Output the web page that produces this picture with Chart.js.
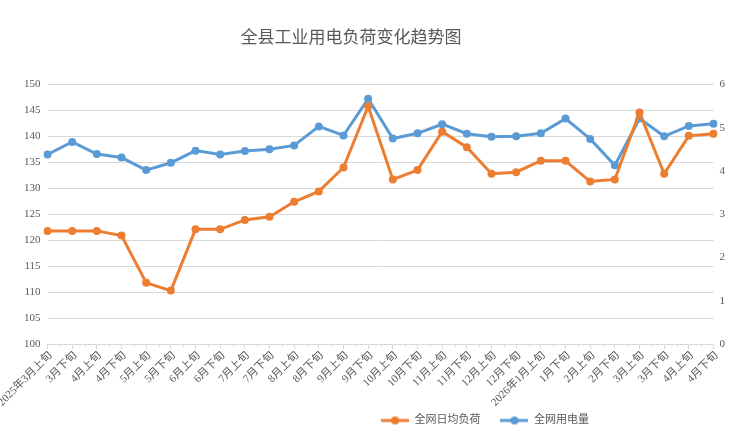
<!DOCTYPE html>
<html>
<head>
<meta charset="utf-8">
<script src="https://cdn.jsdelivr.net/npm/chart.js@4.4.1/dist/chart.umd.min.js"></script>
<style>
  html, body { margin: 0; padding: 0; background: #fff; }
  #wrap { width: 731px; height: 445px; }
</style>
</head>
<body>
<div id="wrap"><canvas id="c" width="731" height="445"></canvas></div>
<script>
const labels = ['2025年3月上旬','3月下旬','4月上旬','4月下旬','5月上旬','5月下旬','6月上旬','6月下旬',
  '7月上旬','7月下旬','8月上旬','8月下旬','9月上旬','9月下旬','10月上旬','10月下旬','11月上旬','11月下旬',
  '12月上旬','12月下旬','2026年1月上旬','1月下旬','2月上旬','2月下旬','3月上旬','3月下旬','4月上旬','4月下旬'];

// 全网日均负荷 (left axis)
const loadAvg = [121.8,121.8,121.8,120.9,111.8,110.3,122.1,122.1,123.9,124.5,127.4,129.4,134.0,145.8,
  131.7,133.5,140.9,137.9,132.8,133.1,135.3,135.3,131.3,131.7,144.6,132.8,140.1,140.5];

// 全网用电量 (right axis)
const usage = [4.38,4.67,4.39,4.31,4.02,4.19,4.47,4.38,4.46,4.50,4.59,5.03,4.82,5.67,
  4.75,4.87,5.08,4.86,4.79,4.80,4.87,5.21,4.74,4.13,5.21,4.80,5.04,5.09];

const ORANGE = '#ED7D31';
const BLUE = '#5B9BD5';
const FONT = "'Liberation Serif', 'Noto Sans CJK SC', serif";

function legendIcon(color) {
  const cv = document.createElement('canvas');
  cv.width = 28; cv.height = 10;
  const g = cv.getContext('2d');
  g.strokeStyle = color; g.lineWidth = 3;
  g.beginPath(); g.moveTo(0, 5); g.lineTo(28, 5); g.stroke();
  g.fillStyle = color;
  g.beginPath(); g.arc(14, 5, 4, 0, Math.PI * 2); g.fill();
  return cv;
}

// excel puts legend and title a bit off-centre; x labels hang below the (shrunk) axis box
const shiftBoxes = {
  id: 'shiftBoxes',
  afterLayout(chart) {
    chart.legend.left += 111; chart.legend.right += 111;
    chart.titleBlock.left -= 23; chart.titleBlock.right -= 23;
    chart.scales.x.bottom += 40;
  }
};

// short minor ticks halfway between the categories
const minorTicks = {
  id: 'minorTicks',
  afterDraw(chart) {
    const xs = chart.scales.x;
    const ctx = chart.ctx;
    ctx.save();
    ctx.strokeStyle = '#d9d9d9';
    ctx.lineWidth = 1;
    ctx.beginPath();
    for (let i = 0; i < labels.length - 1; i++) {
      const px = Math.round((xs.getPixelForValue(i) + xs.getPixelForValue(i + 1)) / 2) + 0.5;
      ctx.moveTo(px, xs.top);
      ctx.lineTo(px, xs.top + 3);
    }
    ctx.stroke();
    ctx.restore();
  }
};

new Chart(document.getElementById('c'), {
  type: 'line',
  data: {
    labels: labels,
    datasets: [
      {
        label: '全网日均负荷',
        data: loadAvg,
        yAxisID: 'y',
        borderColor: ORANGE,
        backgroundColor: ORANGE,
        borderWidth: 3,
        pointRadius: 4,
        pointBackgroundColor: ORANGE,
        pointBorderWidth: 0,
        tension: 0,
        fill: false
      },
      {
        label: '全网用电量',
        data: usage,
        yAxisID: 'y1',
        borderColor: BLUE,
        backgroundColor: BLUE,
        borderWidth: 3,
        pointRadius: 4,
        pointBackgroundColor: BLUE,
        pointBorderWidth: 0,
        tension: 0,
        fill: false
      }
    ]
  },
  options: {
    responsive: false,
    animation: false,
    layout: { padding: { left: 17, right: 0, top: 0, bottom: 9 } },
    plugins: {
      title: {
        display: true,
        text: '全县工业用电负荷变化趋势图',
        color: '#595959',
        font: { family: FONT, size: 17, weight: 'normal' },
        padding: { top: 28, bottom: 36 }
      },
      legend: {
        position: 'bottom',
        labels: {
          usePointStyle: true,
          pointStyleWidth: 28,
          color: '#595959',
          font: { family: FONT, size: 11 },
          boxWidth: 28,
          padding: 20,
          generateLabels(chart) {
            return chart.data.datasets.map((ds, i) => ({
              text: ds.label,
              pointStyle: legendIcon(ds.borderColor),
              fillStyle: ds.borderColor,
              strokeStyle: ds.borderColor,
              lineWidth: 0,
              fontColor: '#595959',
              datasetIndex: i,
              hidden: false
            }));
          }
        }
      },
      tooltip: { enabled: false }
    },
    scales: {
      x: {
        offset: false,
        grid: { display: true, drawOnChartArea: false, color: '#d9d9d9', tickLength: 5 },
        border: { color: '#d9d9d9' },
        ticks: {
          autoSkip: false,
          minRotation: 45,
          maxRotation: 45,
          color: '#595959',
          padding: 0,
          labelOffset: 3,
          font: { family: FONT, size: 11 }
        },
        afterFit(s) { s.paddingLeft = 0; s.paddingRight = 0; s.height -= 14; }
      },
      y: {
        position: 'left',
        min: 100,
        max: 150,
        ticks: { stepSize: 5, color: '#595959', font: { family: FONT, size: 11 }, padding: 7 },
        grid: { color: '#d9d9d9', drawTicks: false },
        border: { display: false }
      },
      y1: {
        position: 'right',
        min: 0,
        max: 6,
        ticks: { stepSize: 1, color: '#595959', font: { family: FONT, size: 11 }, padding: 6 },
        grid: { display: false, drawTicks: false },
        border: { display: false }
      }
    }
  },
  plugins: [shiftBoxes, minorTicks]
});
</script>
</body>
</html>
